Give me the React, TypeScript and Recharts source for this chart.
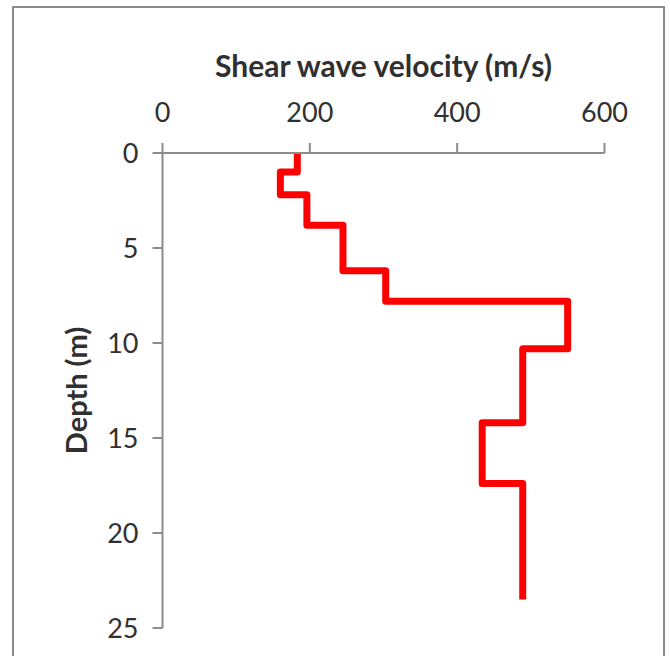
import React from 'react';
import { LineChart, Line, XAxis, YAxis } from 'recharts';

// Layer boundaries (m) and shear wave velocity (m/s) of each layer
const layerTop = [0, 1.0, 2.2, 3.8, 6.2, 7.8, 10.3, 14.2, 17.4];
const layerBottom = [1.0, 2.2, 3.8, 6.2, 7.8, 10.3, 14.2, 17.4, 23.5];
const velocity = [183, 160, 196, 245, 303, 550, 489, 434, 489];

const velocityTicks = [0, 200, 400, 600];
const depthTicks = [0, 5, 10, 15, 20, 25];

const data = velocity.flatMap((v, i) => [
  { v, d: layerTop[i] },
  { v, d: layerBottom[i] },
]);

const FONT = 'Lato, "Noto Sans", sans-serif';
const TEXT = '#303030';
const AXIS = '#8c8c8c';

const DepthLabel = (props: any) => {
  const vb = props.viewBox || {};
  const x = vb.x + 4;
  const y = vb.y + vb.height / 2;
  return (
    <text
      x={x}
      y={y}
      transform={`rotate(-90, ${x}, ${y})`}
      textAnchor="middle"
      fontFamily={FONT}
      fontWeight="bold"
      fontSize={29}
      fill={TEXT}
    >
      Depth (m)
    </text>
  );
};

export default function App() {
  return (
    <div style={{ position: 'absolute', left: 0, top: 0, width: 670, height: 656, overflow: 'hidden', background: '#fff' }}>
      <div
        style={{
          position: 'absolute',
          left: 12,
          top: 6,
          width: 653,
          height: 680,
          border: '2px solid #8a8a8a',
          boxSizing: 'border-box',
        }}
      />
      <div style={{ position: 'absolute', left: 0, top: 0 }}>
        <LineChart
          width={670}
          height={656}
          data={data}
          margin={{ top: 93, right: 65.5, bottom: 28, left: 82.5 }}
        >
          <XAxis
            type="number"
            dataKey="v"
            orientation="top"
            domain={[0, 600]}
            ticks={velocityTicks}
            height={60}
            tickSize={10}
            tickMargin={21}
            axisLine={{ stroke: AXIS, strokeWidth: 2 }}
            tickLine={{ stroke: AXIS, strokeWidth: 2 }}
            tick={{ fontSize: 27, fill: TEXT, fontFamily: FONT }}
            label={{
              value: 'Shear wave velocity (m/s)',
              position: 'top',
              offset: 16,
              fontSize: 30,
              fontWeight: 'bold',
              fill: TEXT,
              fontFamily: FONT,
            }}
          />
          <YAxis
            type="number"
            reversed
            domain={[0, 25]}
            ticks={depthTicks}
            width={80}
            tickSize={10}
            tickMargin={14}
            axisLine={{ stroke: AXIS, strokeWidth: 2 }}
            tickLine={{ stroke: AXIS, strokeWidth: 2 }}
            tick={{ fontSize: 27, fill: TEXT, fontFamily: FONT }}
            label={{ content: DepthLabel }}
          />
          <Line
            type="linear"
            dataKey="d"
            stroke="#ff0000"
            strokeWidth={7}
            strokeLinejoin="round"
            dot={false}
            activeDot={false}
            isAnimationActive={false}
          />
        </LineChart>
      </div>
    </div>
  );
}
